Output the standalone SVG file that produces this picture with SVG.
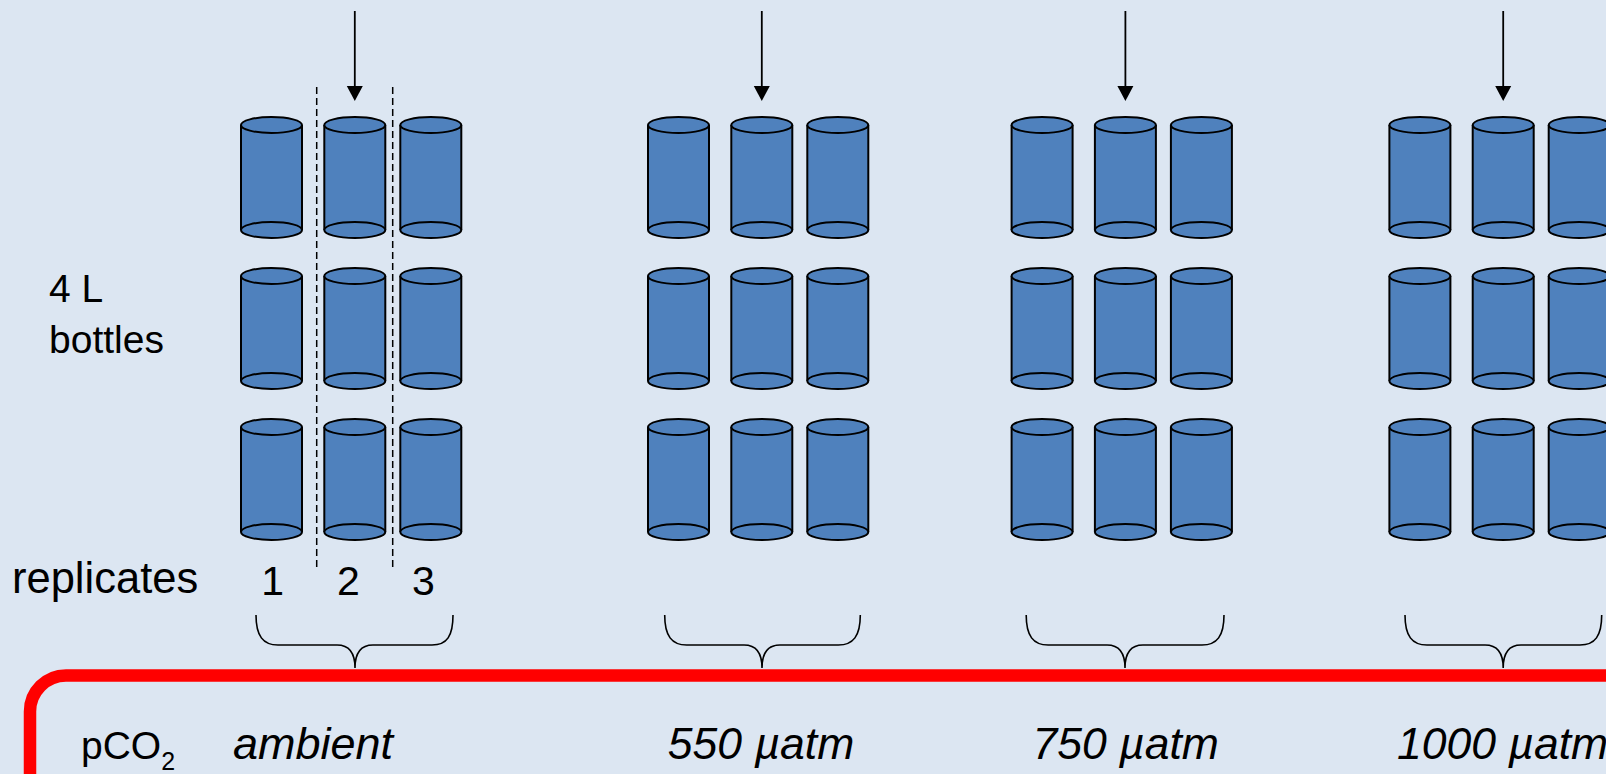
<svg xmlns="http://www.w3.org/2000/svg" xmlns:xlink="http://www.w3.org/1999/xlink" width="1606" height="774" viewBox="0 0 1606 774">
  <style>
    .lbl { font-family: "Liberation Sans", Arial, sans-serif; fill: #000; }
    .it { font-style: italic; }
    .body { fill: #4F81BD; stroke: none; }
    .edge { fill: #4F81BD; stroke: #000; stroke-width: 2; }
    .side { stroke: #000; stroke-width: 2; }
    .arrow { stroke: #000; stroke-width: 1.8; fill: none; }
    .brace { stroke: #000; stroke-width: 1.6; fill: none; }
    .div { stroke: #000; stroke-width: 1.5; stroke-dasharray: 7 4; }
  </style>
  <defs>
    <!-- one bottle: top ellipse centred at (0,0), bottom ellipse at (0,105) -->
    <g id="bottle">
      <rect class="body" x="-30.5" y="0" width="61" height="105"/>
      <line class="side" x1="-30.5" y1="0" x2="-30.5" y2="105"/>
      <line class="side" x1="30.5" y1="0" x2="30.5" y2="105"/>
      <ellipse class="edge" cx="0" cy="105" rx="30.5" ry="8"/>
      <ellipse class="edge" cx="0" cy="0" rx="30.5" ry="8"/>
    </g>
    <!-- three rows of three bottles, centred on the middle column -->
    <g id="rack">
      <use href="#bottle" x="-83.3" y="125"/>
      <use href="#bottle" x="0" y="125"/>
      <use href="#bottle" x="76" y="125"/>
      <use href="#bottle" x="-83.3" y="276"/>
      <use href="#bottle" x="0" y="276"/>
      <use href="#bottle" x="76" y="276"/>
      <use href="#bottle" x="-83.3" y="427"/>
      <use href="#bottle" x="0" y="427"/>
      <use href="#bottle" x="76" y="427"/>
    </g>
  </defs>

  <rect width="1606" height="774" fill="#DCE6F2"/>

  <!-- row labels -->
  <g id="labels">
    <text class="lbl" x="49" y="301.7" font-size="39">4 L</text>
    <text class="lbl" x="49" y="353.3" font-size="39">bottles</text>
    <text class="lbl" x="12" y="593" font-size="43.5">replicates</text>
  </g>

  <!-- treatment: ambient -->
  <g id="ambient">
    <use href="#rack" x="354.8" y="0"/>
    <line class="div" x1="316.7" y1="87" x2="316.7" y2="571"/>
    <line class="div" x1="392.7" y1="87" x2="392.7" y2="571"/>
    <text class="lbl" x="272.7" y="595" font-size="41" text-anchor="middle">1</text>
    <text class="lbl" x="348.3" y="595" font-size="41" text-anchor="middle">2</text>
    <text class="lbl" x="423.3" y="595" font-size="41" text-anchor="middle">3</text>
  </g>

  <!-- treatment: 550 µatm -->
  <g id="co2-550">
    <use href="#rack" x="761.8" y="0"/>
  </g>

  <!-- treatment: 750 µatm -->
  <g id="co2-750">
    <use href="#rack" x="1125.4" y="0"/>
  </g>

  <!-- treatment: 1000 µatm -->
  <g id="co2-1000">
    <use href="#rack" x="1503.2" y="0"/>
  </g>

  <!-- pCO2 panel -->
  <g id="pco2-panel">
    <rect x="30" y="675.5" width="1700" height="300" rx="36" ry="36" fill="none" stroke="#FF0000" stroke-width="12.5"/>
    <text class="lbl" x="81" y="759.3" font-size="39">pCO<tspan font-size="25" dy="11">2</tspan></text>
    <text class="lbl it" x="233" y="759.3" font-size="45">ambient</text>
    <text class="lbl it" x="667.8" y="759.3" font-size="44.5">550 µatm</text>
    <text class="lbl it" x="1032.4" y="759.3" font-size="44.5">750 µatm</text>
    <text class="lbl it" x="1397" y="759.3" font-size="44.5">1000 µatm</text>
  </g>

  <!-- connectors: sampling arrows and grouping braces -->
  <g id="connectors">
    <g class="arrow">
      <line x1="354.8" y1="11" x2="354.8" y2="88"/>
      <line x1="761.8" y1="11" x2="761.8" y2="88"/>
      <line x1="1125.4" y1="11" x2="1125.4" y2="88"/>
      <line x1="1503.2" y1="11" x2="1503.2" y2="88"/>
    </g>
    <g fill="#000">
      <path d="M346.8,86 L362.8,86 L354.8,101 Z"/>
      <path d="M753.8,86 L769.8,86 L761.8,101 Z"/>
      <path d="M1117.4,86 L1133.4,86 L1125.4,101 Z"/>
      <path d="M1495.2,86 L1511.2,86 L1503.2,101 Z"/>
    </g>
    <g class="brace">
      <path d="M256,615 C256,636 263,645 278,645 L337,645 C349,645 355,653 355,668 C355,653 361,645 373,645 L432,645 C447,645 453,636 453,615"/>
      <path d="M664.7,615 C664.7,636 671.7,645 686.7,645 L744,645 C756,645 762,653 762,668 C762,653 768,645 780,645 L838.3,645 C853.3,645 860.3,636 860.3,615"/>
      <path d="M1026.2,615 C1026.2,636 1033.2,645 1048.2,645 L1107,645 C1119,645 1125,653 1125,668 C1125,653 1131,645 1143,645 L1202,645 C1217,645 1224,636 1224,615"/>
      <path d="M1405,615 C1405,636 1412,645 1427,645 L1485,645 C1497,645 1503.2,653 1503.2,668 C1503.2,653 1509,645 1521,645 L1580,645 C1595,645 1601.7,636 1601.7,615"/>
    </g>
  </g>
</svg>
